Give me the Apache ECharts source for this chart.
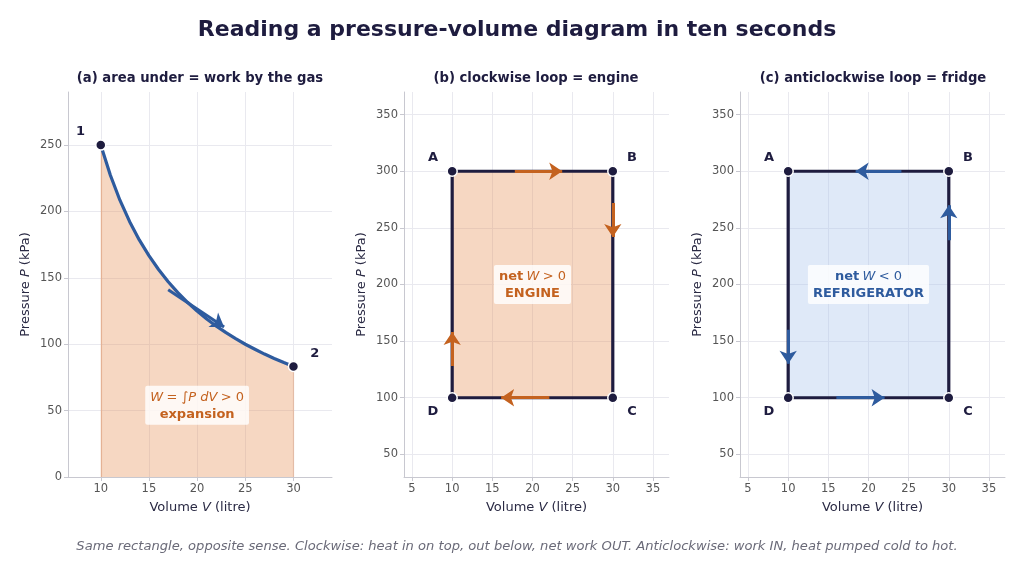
<!DOCTYPE html>
<html><head><meta charset="utf-8">
<script src="https://cdn.jsdelivr.net/npm/echarts@6/dist/echarts.min.js"></script>
<style>html,body{margin:0;padding:0;background:#fff}#c{width:1024px;height:573px}</style>
</head><body><div id="c"></div>
<script>
// Panel (a): expansion curve
const curveV = [10,11,12,13,14,15,16,17,18,19,20,21,22,23,24,25,26,27,28,29,30];
const curveP = [250,227.3,208.3,192.3,178.6,166.7,156.3,147.1,138.9,131.6,125,119,113.6,108.7,104.2,100,96.2,92.6,89.3,86.2,83.3];
const curveArrow = [[17.0,141],[22.8,113]];
const endPoints = [{name:'1', v:10, p:250, lv:7.9, lp:260}, {name:'2', v:30, p:83.3, lv:32.2, lp:93}];
// Panels (b),(c): rectangle cycle
const cornerNames = ['A','B','C','D'];
const cornerV = [10,30,30,10];
const cornerP = [300,300,100,100];
const cornerLabelV = [7.6,32.4,32.4,7.6];
const cornerLabelP = [312,312,88,88];
const engineArrows = [[[17.8,300],[23.7,300]],[[30,272],[30,242]],[[22.1,100],[16.1,100]],[[10,128],[10,158]]];
const fridgeArrows = [[[24.1,300],[18.4,300]],[[30,239],[30,270]],[[16,100],[22,100]],[[10,160],[10,130]]];
const xTicksA = [10,15,20,25,30];
const yTicksA = [0,50,100,150,200,250];
const xTicksB = [5,10,15,20,25,30,35];
const yTicksB = [50,100,150,200,250,300,350];

const NAVY='#1e1c3f', ORANGE='#c4621f', BLUE='#2e5b9e', PEACH='rgba(232,150,95,0.38)', LBLUE='rgba(170,198,236,0.38)';
const FONT='DejaVu Sans';
const chart = echarts.init(document.getElementById('c'));

const grids = [
  {left:68, top:92, width:264, height:385},
  {left:404, top:92, width:265, height:385},
  {left:740, top:92, width:265, height:385}
];
function xAxis(i, min, max, ticks){
  return {type:'value', gridIndex:i, min:min, max:max,
    name:'Volume {i|V} (litre)', nameLocation:'middle', nameGap:24,
    nameTextStyle:{fontFamily:FONT, fontSize:13, color:'#2a2a44', rich:{i:{fontStyle:'italic', fontFamily:FONT, fontSize:13, color:'#2a2a44'}}},
    axisLine:{show:true, lineStyle:{color:'#c8c8d0', width:1}},
    axisTick:{show:true, customValues:ticks, length:4, lineStyle:{color:'#c8c8d0'}},
    axisLabel:{customValues:ticks, fontFamily:FONT, fontSize:11.5, color:'#555', margin:6},
    splitLine:{show:true, lineStyle:{color:'#e9e9ef', width:1}}};
}
function yAxis(i, min, max, ticks, gap){
  return {type:'value', gridIndex:i, min:min, max:max,
    name:'Pressure {i|P} (kPa)', nameLocation:'middle', nameGap:gap, nameRotate:90,
    nameTextStyle:{fontFamily:FONT, fontSize:13, color:'#2a2a44', rich:{i:{fontStyle:'italic', fontFamily:FONT, fontSize:13, color:'#2a2a44'}}},
    axisLine:{show:true, lineStyle:{color:'#c8c8d0', width:1}},
    axisTick:{show:true, customValues:ticks, length:4, lineStyle:{color:'#c8c8d0'}},
    axisLabel:{customValues:ticks, fontFamily:FONT, fontSize:11.5, color:'#555', margin:6},
    splitLine:{show:true, lineStyle:{color:'#e9e9ef', width:1}}};
}
function arrowSeries(idx, arr, color){
  return {type:'lines', coordinateSystem:'cartesian2d', xAxisIndex:idx, yAxisIndex:idx, z:6,
    symbol:['none','arrow'], symbolSize:[0,13], silent:true,
    lineStyle:{color:color, width:3, opacity:1},
    data: arr.map(c=>({coords:c}))};
}
function cornerSeries(idx){
  return [
    {type:'scatter', xAxisIndex:idx, yAxisIndex:idx, z:7, symbol:'circle', symbolSize:10,
      itemStyle:{color:NAVY, borderColor:'#fff', borderWidth:1.5, opacity:1},
      data: cornerV.map((v,k)=>[v,cornerP[k]])},
    {type:'scatter', xAxisIndex:idx, yAxisIndex:idx, z:7, symbolSize:0, itemStyle:{opacity:1},
      label:{show:true, position:'inside', formatter:p=>p.name, fontFamily:FONT, fontWeight:'bold', fontSize:13, color:NAVY},
      data: cornerNames.map((n,k)=>({name:n, value:[cornerLabelV[k], cornerLabelP[k]]}))}
  ];
}
function rectSeries(idx, fill){
  const pts = cornerV.map((v,k)=>[v,cornerP[k]]); pts.push(pts[0]);
  return {type:'line', xAxisIndex:idx, yAxisIndex:idx, z:4, symbol:'none', data:pts,
    lineStyle:{color:NAVY, width:3.2},
    markArea:{silent:true, itemStyle:{color:fill, opacity:1}, data:[[{coord:[cornerV[0],cornerP[2]]},{coord:[cornerV[1],cornerP[0]]}]]}};
}
function boxLabel(idx, v, p, l1, l2, rich){
  return {type:'scatter', xAxisIndex:idx, yAxisIndex:idx, z:8, symbolSize:0, itemStyle:{opacity:1},
    label:{show:true, position:'inside', formatter:l1+'\n'+l2, backgroundColor:'rgba(255,255,255,0.82)', padding:[3,5,2,5], borderRadius:2, lineHeight:17, align:'center', rich:rich},
    data:[[v,p]]};
}
const sty = (c)=>({
  b:{fontFamily:FONT, fontWeight:'bold', fontSize:13, color:c, lineHeight:17},
  m:{fontFamily:FONT, fontSize:13, color:c, lineHeight:17},
  i:{fontFamily:FONT, fontStyle:'italic', fontSize:13, color:c, lineHeight:17}
});

const option = {
  animation:false,
  backgroundColor:'#fff',
  title:[
    {text:'Reading a pressure-volume diagram in ten seconds', left:512, top:14, textAlign:'center', textStyle:{fontFamily:FONT, fontWeight:'bold', fontSize:22, color:NAVY}},
    {text:'(a) area under = work by the gas', left:195, top:67, textAlign:'center', textStyle:{fontFamily:FONT, fontWeight:'bold', fontSize:13.2, color:NAVY}},
    {text:'(b) clockwise loop = engine', left:531, top:67, textAlign:'center', textStyle:{fontFamily:FONT, fontWeight:'bold', fontSize:13.2, color:NAVY}},
    {text:'(c) anticlockwise loop = fridge', left:868, top:67, textAlign:'center', textStyle:{fontFamily:FONT, fontWeight:'bold', fontSize:13.2, color:NAVY}}
  ],
  graphic:[{type:'text', x:517, y:540, style:{text:'Same rectangle, opposite sense. Clockwise: heat in on top, out below, net work OUT. Anticlockwise: work IN, heat pumped cold to hot.', font:'italic 13.1px "DejaVu Sans"', fill:'#6a6a78', textAlign:'center'}}],
  grid:grids,
  xAxis:[xAxis(0,6.6,34,xTicksA), xAxis(1,4,37,xTicksB), xAxis(2,4,37,xTicksB)],
  yAxis:[yAxis(0,0,290,yTicksA,36), yAxis(1,30,370,yTicksB,36), yAxis(2,30,370,yTicksB,36)],
  series:[
    {type:'line', xAxisIndex:0, yAxisIndex:0, z:4, symbol:'none', smooth:false, data:curveV.map((v,k)=>[v,curveP[k]]),
      lineStyle:{color:BLUE, width:3.2, join:'round'}, areaStyle:{color:PEACH, opacity:1}},
    {type:'lines', coordinateSystem:'cartesian2d', xAxisIndex:0, yAxisIndex:0, z:3, silent:true, symbol:'none',
      lineStyle:{color:'rgba(215,130,80,0.35)', width:1.2, opacity:1},
      data:[{coords:[[curveV[0],0],[curveV[0],curveP[0]]]},{coords:[[curveV[curveV.length-1],0],[curveV[curveV.length-1],curveP[curveP.length-1]]]}]},
    arrowSeries(0,[curveArrow],BLUE),
    {type:'scatter', xAxisIndex:0, yAxisIndex:0, z:7, symbol:'circle', symbolSize:10,
      itemStyle:{color:NAVY, borderColor:'#fff', borderWidth:1.5, opacity:1}, data:endPoints.map(e=>[e.v,e.p])},
    {type:'scatter', xAxisIndex:0, yAxisIndex:0, z:7, symbolSize:0, itemStyle:{opacity:1},
      label:{show:true, position:'inside', formatter:p=>p.name, fontFamily:FONT, fontWeight:'bold', fontSize:13, color:NAVY},
      data:endPoints.map(e=>({name:e.name, value:[e.lv,e.lp]}))},
    boxLabel(0,20,54,'{i|W} {m|= ∫}{i|P dV} {m|> 0}','{b|expansion}',sty(ORANGE)),

    rectSeries(1,PEACH),
    arrowSeries(1,engineArrows,ORANGE),
    ...cornerSeries(1),
    boxLabel(1,20,200,'{b|net} {i|W} {m|> 0}','{b|ENGINE}',sty(ORANGE)),

    rectSeries(2,LBLUE),
    arrowSeries(2,fridgeArrows,BLUE),
    ...cornerSeries(2),
    boxLabel(2,20,200,'{b|net} {i|W} {m|< 0}','{b|REFRIGERATOR}',sty(BLUE))
  ]
};
chart.setOption(option);
</script></body></html>
